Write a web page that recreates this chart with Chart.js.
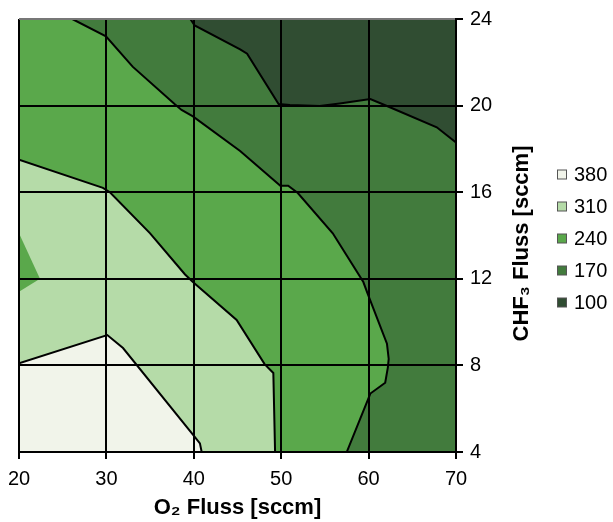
<!DOCTYPE html>
<html>
<head>
<meta charset="utf-8">
<script src="https://cdn.jsdelivr.net/npm/chart.js@4.4.0/dist/chart.umd.min.js"></script>
<style>
  html, body { margin: 0; padding: 0; background: #fff; }
  canvas { display: block; }
</style>
</head>
<body>
<canvas id="contourChart" width="613" height="522"></canvas>
<script>
// contour levels, legend order top to bottom
const levels = [380, 310, 240, 170, 100];
const levelColors = ['#f1f4ea', '#b5dba8', '#5aa84b', '#427b3d', '#304d32'];

const xTicks = [20, 30, 40, 50, 60, 70];
const yTicks = [4, 8, 12, 16, 20, 24];

// boundary lines, [O2 flow, CHF3 flow]
const line100 = [[39.6, 24], [40.1, 23.7], [45.3, 22.6], [46.1, 22.4], [49.7, 20.07], [51.0, 20.03],
    [54.4, 19.98], [56.7, 20.1], [60.2, 20.3], [62.1, 19.98], [67.8, 19.0], [70, 18.3]];
const line170 = [[26.1, 24], [29.95, 23.2], [33.0, 21.8], [37.8, 20.07], [38.6, 19.8], [39.9, 19.5],
    [45.3, 17.9], [49.9, 16.3], [50.8, 16.3], [51.9, 15.96], [55.9, 14.1], [59.4, 11.85], [59.9, 11.3],
    [62.1, 9.0], [62.3, 8.3], [62.2, 7.9], [61.9, 7.2], [60.2, 6.7], [57.5, 4]];
const line240 = [[20, 17.5], [29.6, 16.2], [30.4, 16.0], [35.0, 14.1], [39.0, 12.2], [39.9, 11.85],
    [44.9, 10.1], [48.1, 8.06], [49.1, 7.65], [49.3, 4]];
const line310 = [[20, 8.1], [30.1, 9.4], [31.9, 8.8], [39.9, 4.8], [40.7, 4.4], [40.9, 4]];
const island240 = [[20, 14.1], [22.4, 12.0], [20, 11.4]];

const xMin = xTicks[0], xMax = xTicks[xTicks.length - 1];
const yMin = yTicks[0], yMax = yTicks[yTicks.length - 1];

const toXY = pts => pts.map(p => ({ x: p[0], y: p[1] }));

// filled areas, each one covers everything at or above its level
const areas = [
    [[xMin, yMin], [xMax, yMin], [xMax, yMax], [xMin, yMax]],
    [[xMin, yMax], ...line100, [xMax, yMin], [xMin, yMin]],
    [[xMin, yMax], ...line170, [xMin, yMin]],
    [...line240, [xMin, yMin]],
    [...line310, [xMin, yMin]],
    island240
];
const areaColors = [levelColors[4], levelColors[3], levelColors[2], levelColors[1], levelColors[0], levelColors[2]];

const datasets = [];
areas.forEach((pts, i) => {
    datasets.push({
        data: toXY(pts),
        showLine: true,
        fill: 'shape',
        backgroundColor: areaColors[i],
        borderColor: 'rgba(0,0,0,0)',
        borderWidth: 0,
        pointRadius: 0,
        order: 20 - i
    });
});
[line100, line170, line240, line310].forEach(pts => {
    datasets.push({
        data: toXY(pts),
        showLine: true,
        fill: false,
        borderColor: '#000',
        borderWidth: 2,
        pointRadius: 0,
        order: 1
    });
});

const FONT = '"Liberation Sans", Arial, sans-serif';

// right-hand title (reads bottom to top) and level key
const sideLabels = {
    id: 'sideLabels',
    afterDraw(chart) {
        const { ctx, scales } = chart;
        const area = chart.chartArea;
        const midY = (area.top + area.bottom) / 2;
        const left = scales.y.left;

        ctx.save();
        ctx.translate(left + 66, midY + 8);
        ctx.rotate(-Math.PI / 2);
        ctx.font = 'bold 22px ' + FONT;
        ctx.fillStyle = '#000';
        ctx.textAlign = 'center';
        ctx.textBaseline = 'middle';
        ctx.fillText('CHF\u2083 Fluss [sccm]', 0, 0);
        ctx.restore();

        ctx.save();
        ctx.font = '20px ' + FONT;
        ctx.textAlign = 'left';
        ctx.textBaseline = 'middle';
        levels.forEach((v, i) => {
            const cy = midY - 61 + i * 32;
            ctx.fillStyle = levelColors[i];
            ctx.fillRect(left + 101.5, cy - 4.5, 9, 9);
            ctx.strokeStyle = '#555';
            ctx.lineWidth = 1;
            ctx.strokeRect(left + 101.5, cy - 4.5, 9, 9);
            ctx.fillStyle = '#000';
            ctx.fillText(String(v), left + 118, cy + 1);
        });
        ctx.restore();
    }
};

Chart.defaults.font.family = FONT;
Chart.defaults.color = '#000';

new Chart(document.getElementById('contourChart'), {
    type: 'scatter',
    data: { datasets: datasets },
    plugins: [sideLabels],
    options: {
        responsive: false,
        animation: false,
        events: [],
        layout: { padding: { left: 19, top: 14, right: 0, bottom: 0 } },
        plugins: {
            tooltip: { enabled: false },
            legend: { display: false }
        },
        scales: {
            x: {
                type: 'linear',
                min: xMin,
                max: xMax,
                afterBuildTicks: axis => { axis.ticks = xTicks.map(v => ({ value: v })); },
                afterFit: axis => {
                    axis.height = 70;
                    axis.paddingLeft = 0;
                    axis.paddingRight = 0;
                },
                grid: { z: 1, color: '#000', lineWidth: 2, tickLength: 7, tickColor: '#000' },
                border: { z: 1, display: true, color: '#000', width: 2 },
                ticks: { font: { size: 20 }, padding: 8, color: '#000', maxRotation: 0 },
                title: {
                    display: true,
                    text: 'O\u2082 Fluss [sccm]',
                    font: { size: 22, weight: 'bold' },
                    color: '#000',
                    padding: { top: 0, bottom: 1 }
                }
            },
            y: {
                type: 'linear',
                position: 'right',
                min: yMin,
                max: yMax,
                afterBuildTicks: axis => { axis.ticks = yTicks.map(v => ({ value: v })); },
                afterFit: axis => { axis.width = 157; },
                grid: {
                    z: 1,
                    color: ctx => (ctx.tick && ctx.tick.value === yMax ? '#777' : '#000'),
                    lineWidth: 2,
                    tickLength: 7,
                    tickColor: '#000'
                },
                border: { z: 1, display: true, color: '#000', width: 2 },
                ticks: { font: { size: 20 }, padding: 7, color: '#000' }
            }
        }
    }
});
</script>
</body>
</html>
